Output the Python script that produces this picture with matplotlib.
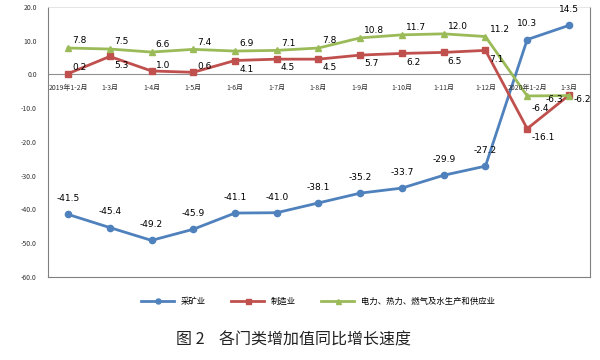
#!/usr/bin/env python3
"""Line chart: value-added growth by sector (图2)."""

import matplotlib
matplotlib.use('Agg')
import matplotlib.pyplot as plt

plt.rcParams['font.family'] = ['Noto Sans CJK SC', 'DejaVu Sans']

months = ['2019年1-2月', '1-3月', '1-4月', '1-5月', '1-6月', '1-7月', '1-8月',
          '1-9月', '1-10月', '1-11月', '1-12月', '2020年1-2月', '1-3月']
mining = [-41.5, -45.4, -49.2, -45.9, -41.1, -41.0, -38.1, -35.2, -33.7, -29.9, -27.2, 10.3, 14.5]
manufacturing = [0.2, 5.3, 1.0, 0.6, 4.1, 4.5, 4.5, 5.7, 6.2, 6.5, 7.1, -16.1, -6.2]
utilities = [7.8, 7.5, 6.6, 7.4, 6.9, 7.1, 7.8, 10.8, 11.7, 12.0, 11.2, -6.4, -6.3]
series_names = ['采矿业', '制造业', '电力、热力、燃气及水生产和供应业']
y_ticks = [20, 10, 0, -10, -20, -30, -40, -50, -60]

blue = '#4F81BD'
red = '#C0504D'
green = '#9BBB59'

fig = plt.figure(figsize=(6, 3.6), dpi=100)
ax = fig.add_axes([0.08, 0.231, 0.903, 0.75])

x = list(range(len(months)))
ax.plot(x, mining, color=blue, lw=2.0, marker='o', ms=4.5, label=series_names[0])
ax.plot(x, manufacturing, color=red, lw=2.0, marker='s', ms=4.5, label=series_names[1])
ax.plot(x, utilities, color=green, lw=2.0, marker='^', ms=4.5, label=series_names[2])

# data labels
for i, v in enumerate(mining):
    ax.annotate(f'{v:.1f}', (i, v), xytext=(0, 8), textcoords='offset points',
                ha='center', va='bottom', fontsize=6.5, family='DejaVu Sans')
for i, v in enumerate(utilities):
    dx, ha = (3, 'left') if i != 12 else (-4, 'right')
    dy = 2 if i != 11 else -6
    va = 'bottom' if i != 11 else 'top'
    if i == 12:
        dx, dy, va = -4, -3, 'center'
    ax.annotate(f'{v:.1f}', (i, v), xytext=(dx, dy), textcoords='offset points',
                ha=ha, va=va, fontsize=6.5, family='DejaVu Sans')
for i, v in enumerate(manufacturing):
    if i in (0, 2, 3):
        dx, dy, va = 3, 1, 'bottom'
    elif i == 12:
        dx, dy, va = 3, -3, 'center'
    else:
        dx, dy, va = 3, -3, 'top'
    ax.annotate(f'{v:.1f}', (i, v), xytext=(dx, dy), textcoords='offset points',
                ha='left', va=va, fontsize=6.5, family='DejaVu Sans')

ax.set_xlim(-0.48, 12.5)
ax.set_ylim(-60, 20)
ax.set_yticks(y_ticks)
ax.set_yticklabels([f'{t:.1f}' for t in y_ticks], fontsize=5, color='#333333')
ax.set_xticks([])
ax.tick_params(axis='y', length=0, pad=8)

# category labels sit under the zero line
for i, m in enumerate(months):
    ax.text(i, -2.8, m, ha='center', va='top', fontsize=5, color='#333333')

ax.axhline(0, color='#909090', lw=0.8, zorder=0)
for side in ['left', 'bottom', 'right']:
    ax.spines[side].set_color('#808080')
    ax.spines[side].set_linewidth(0.8)
ax.spines['top'].set_color('#e0e0e0')
ax.spines['top'].set_linewidth(0.6)

fig.legend(loc='center', bbox_to_anchor=(0.53, 0.163), ncol=3, frameon=False,
           fontsize=6, handlelength=4, columnspacing=3, markerscale=0.8)

fig.text(0.49, 0.055, '图 2    各门类增加值同比增长速度', ha='center', va='center',
         fontsize=11.5, color='#222222')

fig.savefig('out.png', dpi=100, facecolor='white')
